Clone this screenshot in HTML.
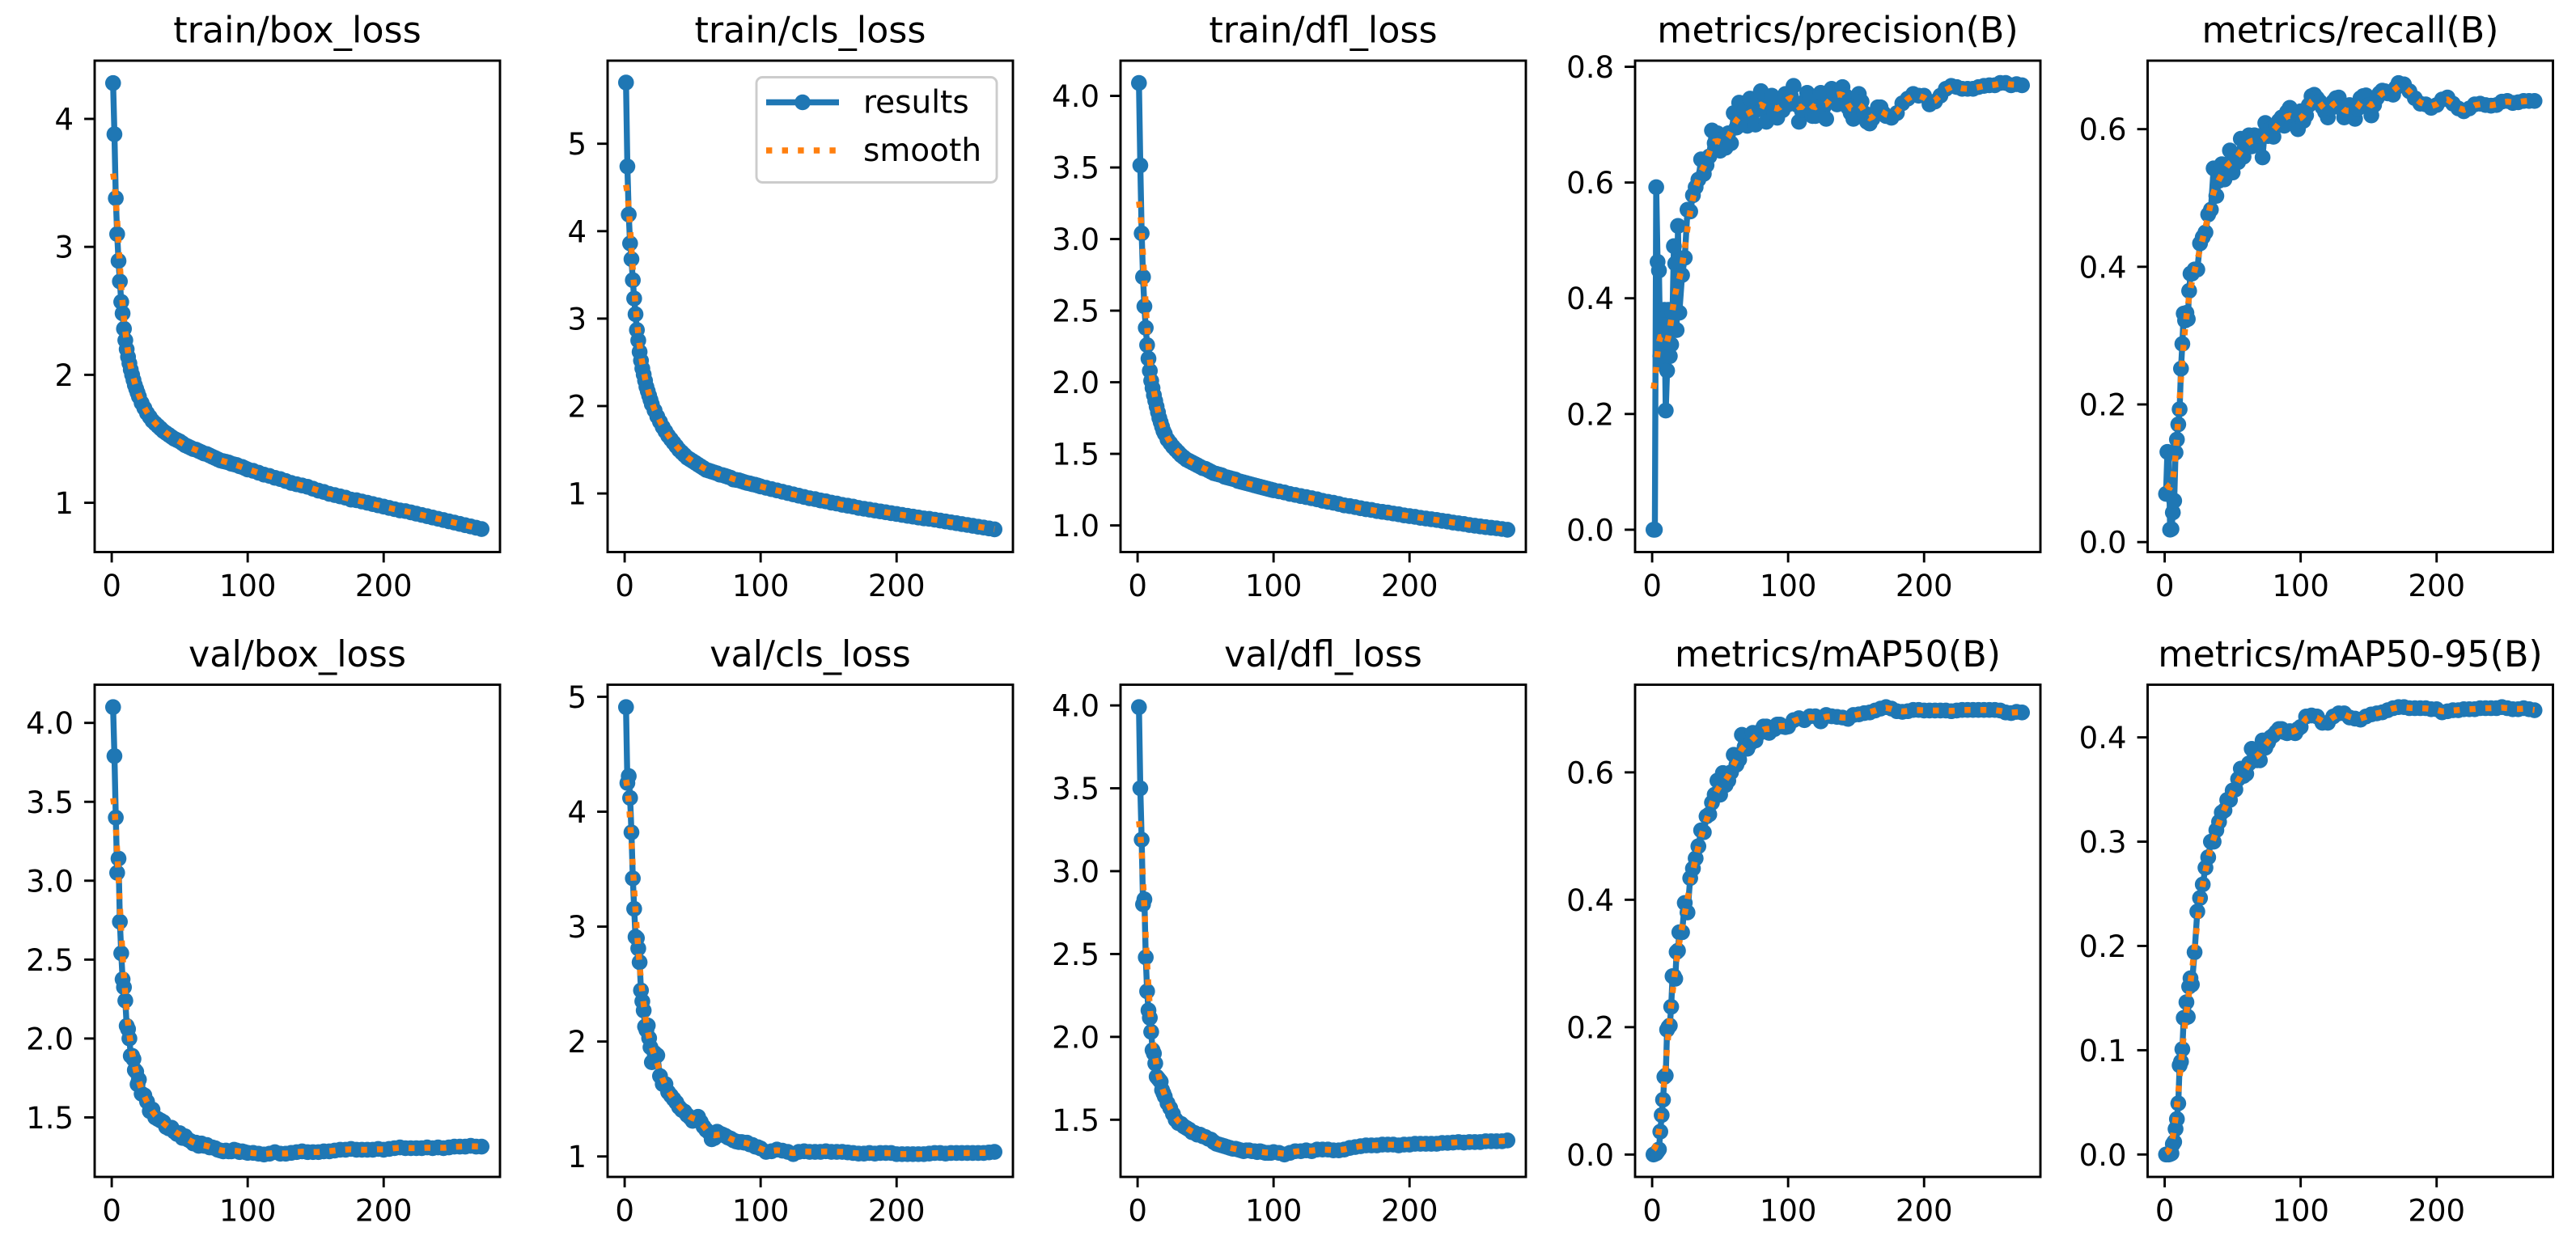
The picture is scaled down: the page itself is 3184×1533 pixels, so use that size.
<!DOCTYPE html>
<html lang="en">
<head>
<meta charset="utf-8">
<title>Training results</title>
<style>
html,body{margin:0;padding:0;background:#fff;width:3184px;height:1533px;overflow:hidden}
svg{display:block}
text{font-family:"DejaVu Sans","Liberation Sans",sans-serif;fill:#000}
</style>
</head>
<body>
<svg id="results-figure" xmlns="http://www.w3.org/2000/svg" width="3184" height="1533" viewBox="0 0 3184 1533"></svg>
<script>
const epochs = [1,2,3,4,5,6,7,8,9,10,11,12,13,14,15,16,17,18,19,20,
22,24,26,28,30,32,34,36,38,40,42,44,46,48,50,52,54,56,58,60,
62,64,66,68,70,72,74,76,78,80,82,84,86,88,90,92,94,96,98,100,
104,108,112,116,120,124,128,132,136,140,144,148,152,156,160,164,168,172,176,180,184,188,192,196,200,204,208,212,216,220,224,228,232,236,240,244,248,252,256,260,264,268,272];

const noisyEpochs = [1,2,3,4,5,6,7,8,9,10,11,12,13,14,15,16,17,18,19,20,
22,24,26,28,30,32,34,36,38,40,42,44,46,48,50,52,54,56,58,60,
62,64,66,68,70,72,74,76,78,80,82,84,86,88,90,92,94,96,98,100,
102,104,106,108,110,112,114,116,118,120,122,124,126,128,130,132,134,136,138,140,142,144,146,148,150,152,154,156,158,160,162,164,166,168,170,172,
176,180,184,188,192,196,200,204,208,212,216,220,224,228,232,236,240,244,248,252,256,260,264,268,272];

const trainBoxLoss = [4.28,3.88,3.38,3.10,2.89,2.73,2.57,2.48,2.36,2.27,2.20,2.14,2.09,2.04,2.00,1.96,1.92,1.89,1.86,1.83,
1.78,1.74,1.70,1.67,1.64,1.62,1.60,1.58,1.56,1.545,1.53,1.515,1.50,1.49,1.48,1.465,1.45,1.44,1.43,1.42,
1.415,1.405,1.395,1.385,1.38,1.37,1.36,1.35,1.34,1.33,1.325,1.32,1.315,1.305,1.30,1.295,1.285,1.28,1.27,1.26,
1.25,1.235,1.22,1.21,1.195,1.185,1.17,1.155,1.145,1.135,1.125,1.11,1.095,1.085,1.07,1.06,1.05,1.04,1.025,1.02,1.01,1.00,.99,.98,.97,.96,.95,.94,.935,.925,.915,.905,.895,.885,.875,.865,.855,.845,.835,.825,.815,.805,.795];

const trainClsLoss = [5.70,4.74,4.19,3.86,3.68,3.44,3.23,3.05,2.87,2.75,2.62,2.52,2.43,2.36,2.29,2.22,2.17,2.12,2.07,2.02,
1.95,1.88,1.82,1.76,1.71,1.66,1.62,1.58,1.54,1.50,1.47,1.44,1.41,1.39,1.37,1.35,1.33,1.31,1.29,1.27,
1.26,1.25,1.24,1.23,1.215,1.21,1.20,1.19,1.18,1.16,1.155,1.15,1.14,1.13,1.12,1.115,1.105,1.10,1.09,1.08,
1.065,1.05,1.035,1.02,1.005,.99,.975,.96,.945,.935,.92,.91,.895,.885,.87,.86,.85,.835,.825,.815,.805,.795,.785,.775,.765,.755,.745,.735,.725,.715,.71,.70,.69,.68,.67,.66,.65,.64,.63,.62,.61,.60,.59];

const trainDflLoss = [4.09,3.515,3.04,2.735,2.53,2.38,2.26,2.165,2.08,2.01,1.96,1.91,1.87,1.83,1.79,1.75,1.72,1.69,1.66,1.64,
1.60,1.575,1.55,1.53,1.51,1.49,1.475,1.46,1.45,1.44,1.43,1.42,1.41,1.40,1.395,1.385,1.375,1.365,1.36,1.355,
1.35,1.34,1.335,1.33,1.325,1.32,1.31,1.305,1.30,1.295,1.29,1.285,1.28,1.275,1.27,1.265,1.26,1.255,1.25,1.245,
1.238,1.23,1.22,1.213,1.205,1.198,1.19,1.182,1.172,1.165,1.158,1.15,1.14,1.135,1.128,1.12,1.113,1.108,1.10,1.095,1.09,1.083,1.078,1.07,1.065,1.06,1.053,1.048,1.043,1.038,1.032,1.027,1.02,1.015,1.01,1.003,.998,.993,.988,.984,.98,.975,.97];

const precisionB = [0,0,.592,.463,.448,.30,.345,.285,.38,.206,.275,.38,.30,.32,.375,.49,.46,.345,.525,.375,
.44,.47,.553,.55,.578,.592,.605,.64,.615,.63,.645,.69,.668,.685,.655,.675,.66,.685,.668,.72,
.695,.738,.70,.725,.698,.745,.72,.70,.748,.758,.725,.705,.74,.75,.72,.712,.74,.725,.753,.735,
.75,.767,.735,.705,.725,.74,.755,.747,.715,.715,.74,.755,.73,.71,.745,.762,.755,.735,.76,.765,.75,.73,.72,.71,.735,.753,.74,.72,.705,.702,.71,.72,.73,.73,.72,.715,
.712,.72,.737,.745,.753,.75,.75,.735,.74,.75,.762,.767,.765,.762,.762,.762,.765,.767,.768,.768,.772,.772,.768,.77,.768];

const recallB = [.07,.131,.13,.018,.019,.043,.06,.13,.149,.171,.193,.252,.288,.332,.322,.333,.324,.365,.39,.39,
.396,.396,.434,.443,.45,.476,.483,.543,.503,.525,.549,.527,.549,.569,.537,.56,.552,.586,.56,.58,
.591,.575,.591,.58,.59,.559,.609,.59,.60,.589,.605,.612,.617,.605,.625,.631,.61,.62,.60,.626,
.612,.62,.635,.648,.65,.645,.64,.632,.625,.617,.63,.64,.645,.646,.63,.617,.625,.635,.625,.615,.63,.645,.648,.649,.635,.62,.635,.645,.652,.656,.655,.652,.652,.65,.66,.667,
.665,.655,.645,.637,.636,.631,.635,.643,.646,.637,.63,.626,.63,.636,.637,.635,.634,.635,.64,.641,.638,.639,.641,.641,.641];

const valBoxLoss = [4.10,3.79,3.40,3.05,3.14,2.74,2.54,2.375,2.325,2.24,2.08,2.06,2.0,1.89,1.89,1.87,1.80,1.79,1.71,1.74,
1.65,1.64,1.60,1.54,1.55,1.50,1.49,1.48,1.47,1.44,1.43,1.435,1.41,1.395,1.40,1.37,1.38,1.36,1.35,1.335,
1.34,1.32,1.335,1.32,1.325,1.31,1.31,1.305,1.295,1.29,1.285,1.29,1.285,1.285,1.295,1.29,1.28,1.285,1.28,1.275,
1.275,1.27,1.265,1.27,1.28,1.27,1.27,1.275,1.28,1.285,1.28,1.28,1.28,1.285,1.285,1.29,1.295,1.295,1.30,1.295,1.295,1.295,1.295,1.30,1.295,1.30,1.305,1.31,1.305,1.305,1.305,1.305,1.31,1.305,1.31,1.305,1.31,1.315,1.315,1.315,1.32,1.315,1.315];

const valClsLoss = [4.91,4.25,4.31,4.12,3.82,3.42,3.155,2.91,2.90,2.81,2.69,2.445,2.35,2.27,2.13,2.10,2.14,2.03,1.95,1.82,
1.90,1.88,1.70,1.63,1.63,1.56,1.53,1.50,1.47,1.43,1.405,1.39,1.36,1.34,1.31,1.33,1.345,1.30,1.26,1.23,
1.21,1.15,1.16,1.215,1.20,1.19,1.18,1.165,1.155,1.14,1.13,1.125,1.125,1.12,1.12,1.105,1.10,1.085,1.08,1.07,
1.04,1.045,1.06,1.05,1.04,1.02,1.04,1.045,1.04,1.04,1.04,1.045,1.04,1.04,1.04,1.035,1.03,1.025,1.025,1.03,1.025,1.03,1.03,1.03,1.02,1.02,1.02,1.02,1.02,1.02,1.025,1.03,1.03,1.025,1.03,1.03,1.03,1.03,1.03,1.03,1.03,1.035,1.04];

const valDflLoss = [3.99,3.50,3.19,2.80,2.83,2.48,2.275,2.16,2.115,2.03,1.92,1.90,1.84,1.76,1.75,1.74,1.73,1.68,1.66,1.64,
1.60,1.57,1.535,1.50,1.48,1.475,1.46,1.45,1.44,1.425,1.42,1.41,1.41,1.40,1.395,1.385,1.38,1.365,1.355,1.35,
1.345,1.34,1.335,1.33,1.325,1.325,1.32,1.315,1.31,1.315,1.315,1.31,1.31,1.305,1.31,1.305,1.30,1.30,1.30,1.305,
1.30,1.29,1.30,1.31,1.31,1.315,1.31,1.32,1.32,1.32,1.315,1.315,1.32,1.33,1.335,1.34,1.345,1.345,1.345,1.35,1.35,1.35,1.345,1.35,1.35,1.355,1.355,1.355,1.355,1.355,1.36,1.36,1.362,1.365,1.362,1.365,1.365,1.365,1.37,1.37,1.37,1.37,1.375];

const mAP50B = [0,.001,.002,.005,.008,.036,.062,.086,.122,.124,.196,.20,.2025,.232,.28,.28,.276,.318,.32,.349,
.349,.395,.38,.434,.449,.465,.484,.509,.506,.531,.534,.5525,.565,.587,.565,.599,.58,.587,.60,.6275,
.612,.62,.659,.64,.637,.645,.662,.65,.66,.665,.672,.672,.662,.67,.668,.675,.675,.672,.671,.672,
.682,.685,.682,.688,.688,.68,.69,.688,.687,.686,.684,.69,.691,.693,.694,.697,.70,.7025,.70,.696,.695,.696,.698,.698,.697,.697,.697,.697,.697,.696,.697,.698,.698,.698,.698,.698,.698,.698,.697,.694,.693,.695,.694];

const mAP5095B = [0,0,0,.0005,.001,.01,.012,.0245,.034,.049,.0855,.089,.101,.131,.131,.146,.132,.161,.169,.163,
.194,.233,.246,.259,.275,.285,.30,.30,.311,.319,.328,.33,.34,.34,.349,.35,.36,.37,.363,.365,
.375,.389,.38,.378,.378,.397,.39,.395,.40,.402,.405,.408,.408,.405,.404,.406,.405,.404,.408,.41,
.42,.421,.42,.414,.414,.42,.423,.423,.419,.418,.417,.42,.422,.423,.424,.426,.428,.429,.429,.428,.428,.428,.428,.427,.427,.424,.425,.426,.426,.427,.427,.427,.428,.428,.428,.428,.429,.428,.427,.427,.428,.427,.426];

const panelTitles = ["train/box_loss","train/cls_loss","train/dfl_loss","metrics/precision(B)","metrics/recall(B)","val/box_loss","val/cls_loss","val/dfl_loss","metrics/mAP50(B)","metrics/mAP50-95(B)"];
const panelNames = ["train-box-loss","train-cls-loss","train-dfl-loss","precision","recall","val-box-loss","val-cls-loss","val-dfl-loss","map50","map50-95"];
const panelSeries = [trainBoxLoss,trainClsLoss,trainDflLoss,precisionB,recallB,valBoxLoss,valClsLoss,valDflLoss,mAP50B,mAP5095B];
const panelEpochs = [epochs,epochs,epochs,noisyEpochs,noisyEpochs,epochs,epochs,epochs,epochs,epochs];
const xTickLabels = ["0","100","200"];
const xDomain = [-12.55,285.55];
const yDomains = [[.615,4.455],[.33,5.95],[.814,4.246],[-.0386,.8106],[-.0145,.6995],[1.123,4.242],[.822,5.105],[1.155,4.125],[-.0351,.7376],[-.0215,.4505]];
const yTickLabels = [
["1","2","3","4"],
["1","2","3","4","5"],
["1.0","1.5","2.0","2.5","3.0","3.5","4.0"],
["0.0","0.2","0.4","0.6","0.8"],
["0.0","0.2","0.4","0.6"],
["1.5","2.0","2.5","3.0","3.5","4.0"],
["1","2","3","4","5"],
["1.5","2.0","2.5","3.0","3.5","4.0"],
["0.0","0.2","0.4","0.6"],
["0.0","0.1","0.2","0.3","0.4"]];
const legendLabels = ["results","smooth"];

const NS = "http://www.w3.org/2000/svg";
const BLUE = "#1f77b4", ORANGE = "#ff7f0e";
const LINE_W = 7.4, DOT_R = 9.8, SPINE_W = 2.9, TICK_LEN = 12.9;
const TICK_FONT = 37, TITLE_FONT = 44.4, LEGEND_FONT = 39;
const colLeft = [117,751,1385,2021,2654.5];
const rowTop = [75,846.5];
const AX_W = 501;
const rowHeight = [607.5,608.5];
const root = document.getElementById("results-figure");

function make(tag, attrs, parent) {
  const el = document.createElementNS(NS, tag);
  for (const k in attrs) el.setAttribute(k, attrs[k]);
  parent.appendChild(el);
  return el;
}

/* Gaussian filter (sigma 3 epochs, reflected ends) over the results series */
function gaussianSmooth(xs, ys) {
  const sigma = 3, n = xs.length, out = [];
  const first = xs[0], last = xs[n - 1];
  const step = j => j === 0 ? xs[1] - xs[0] : j === n - 1 ? xs[n - 1] - xs[n - 2] : (xs[j + 1] - xs[j - 1]) / 2;
  for (let i = 0; i < n; i++) {
    let sum = 0, norm = 0;
    for (let j = 0; j < n; j++) {
      for (const xj of [xs[j], 2 * first - 1 - xs[j], 2 * last + 1 - xs[j]]) {
        const d = xs[i] - xj;
        if (Math.abs(d) > 12) continue;
        const w = Math.exp(-d * d / (2 * sigma * sigma)) * step(j);
        sum += w * ys[j];
        norm += w;
      }
    }
    out.push(sum / norm);
  }
  return out;
}

function pathFrom(xs, ys, xScale, yScale) {
  return xs.map((x, i) => (i ? "L" : "M") + xScale(x).toFixed(2) + " " + yScale(ys[i]).toFixed(2)).join("");
}

function drawPanel(index) {
  const col = index % 5, row = Math.floor(index / 5);
  const left = colLeft[col], top = rowTop[row], h = rowHeight[row];
  const yDom = yDomains[index];
  const values = panelSeries[index];
  const xs = panelEpochs[index];
  const name = panelNames[index];
  const xScale = v => left + (v - xDomain[0]) / (xDomain[1] - xDomain[0]) * AX_W;
  const yScale = v => top + h - (v - yDom[0]) / (yDom[1] - yDom[0]) * h;

  const g = make("g", {}, root);
  
  

  const title = make("text", {x: left + AX_W / 2, y: top - 22.5, "text-anchor": "middle", "font-size": TITLE_FONT}, g);
  
  
  title.textContent = panelTitles[index];

  const line = make("path", {d: pathFrom(xs, values, xScale, yScale), fill: "none", stroke: BLUE, "stroke-width": LINE_W, "stroke-linejoin": "round"}, g);
  
  

  const dots = make("g", {fill: BLUE}, g);
  
  
  xs.forEach((e, i) => {
    const dot = make("circle", {cx: xScale(e).toFixed(2), cy: yScale(values[i]).toFixed(2), r: DOT_R}, dots);
    
    
  });

  const smooth = make("path", {d: pathFrom(xs, gaussianSmooth(xs, values), xScale, yScale), fill: "none", stroke: ORANGE, "stroke-width": LINE_W, "stroke-dasharray": "7.4 12.2"}, g);
  
  

  const frame = make("rect", {x: left, y: top, width: AX_W, height: h, fill: "none", stroke: "#000", "stroke-width": SPINE_W}, g);
  
  

  xTickLabels.forEach(label => {
    const x = xScale(parseFloat(label));
    const tick = make("line", {x1: x, x2: x, y1: top + h, y2: top + h + TICK_LEN, stroke: "#000", "stroke-width": SPINE_W}, g);
    
    
    const text = make("text", {x: x, y: top + h + 54.5, "text-anchor": "middle", "font-size": TICK_FONT}, g);
    
    
    text.textContent = label;
  });

  yTickLabels[index].forEach(label => {
    const y = yScale(parseFloat(label));
    const tick = make("line", {x1: left - TICK_LEN, x2: left, y1: y, y2: y, stroke: "#000", "stroke-width": SPINE_W}, g);
    
    
    const text = make("text", {x: left - 26, y: y + 13.5, "text-anchor": "end", "font-size": TICK_FONT}, g);
    
    
    text.textContent = label;
  });
}

function drawLegend() {
  const g = make("g", {}, root);
  
  
  const box = make("rect", {x: 935, y: 95.5, width: 297, height: 130, rx: 7.4, ry: 7.4, fill: "#fff", "fill-opacity": 0.8, stroke: "#ccc", "stroke-width": 2.9}, g);
  
  
  const resultsLine = make("line", {x1: 947, x2: 1037, y1: 126.5, y2: 126.5, stroke: BLUE, "stroke-width": LINE_W}, g);
  
  
  const resultsDot = make("circle", {cx: 992, cy: 126.5, r: DOT_R, fill: BLUE}, g);
  
  
  const resultsText = make("text", {x: 1067, y: 139.5, "font-size": LEGEND_FONT}, g);
  
  
  resultsText.textContent = legendLabels[0];
  const smoothLine = make("line", {x1: 947, x2: 1037, y1: 186, y2: 186, stroke: ORANGE, "stroke-width": LINE_W, "stroke-dasharray": "7.4 12.2"}, g);
  
  
  const smoothText = make("text", {x: 1067, y: 199, "font-size": LEGEND_FONT}, g);
  
  
  smoothText.textContent = legendLabels[1];
}

panelSeries.forEach((_, i) => drawPanel(i));
drawLegend();
</script>
</body>
</html>
